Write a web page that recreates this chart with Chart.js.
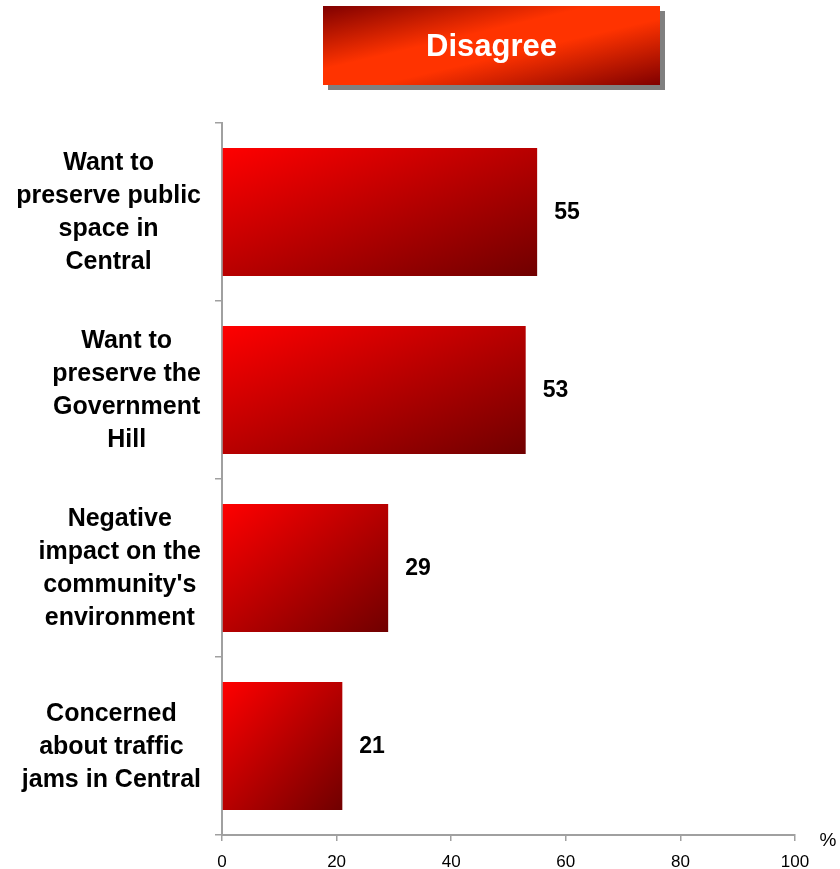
<!DOCTYPE html>
<html>
<head>
<meta charset="utf-8">
<script src="https://cdn.jsdelivr.net/npm/chart.js@4.4.0/dist/chart.umd.min.js"></script>
<style>
  html, body { margin: 0; padding: 0; background: #fff; }
  #wrap { position: relative; width: 840px; height: 869px; }
  #title {
    position: absolute; left: 323px; top: 6px; width: 337px; height: 79px;
    background: linear-gradient(to bottom right, #800000 0%, #ff3300 40%, #ff3300 58%, #800000 100%);
    box-shadow: 5px 5px 0 #808080;
    color: #fff; font: bold 31px "Liberation Sans", Arial, sans-serif;
    display: flex; align-items: center; justify-content: center;
  }
</style>
</head>
<body>
<div id="wrap">
  <canvas id="disagreeChart" width="840" height="869"></canvas>
  <div id="title">Disagree</div>
</div>
<script>
// chart data
const categories = [
  ["Want to", "preserve public", "space in", "Central"],
  ["Want to", "preserve the", "Government", "Hill"],
  ["Negative", "impact on the", "community's", "environment"],
  ["Concerned", "about traffic", "jams in Central"]
];
const values = [55, 53, 29, 21];
const xTicks = [0, 20, 40, 60, 80, 100];

const FONT = '"Liberation Sans", Arial, sans-serif';

// paints each bar with its own corner-to-corner red gradient (like css "to bottom right")
const barGradient = {
  id: 'barGradient',
  beforeDatasetsDraw(chart) {
    const ctx = chart.ctx;
    chart.getDatasetMeta(0).data.forEach(bar => {
      const p = bar.getProps(['x', 'y', 'base', 'height'], true);
      const w = p.x - p.base, h = p.height;
      const cx = p.base + w / 2, cy = p.y;
      const k = (w * h) / (w * w + h * h);
      const g = ctx.createLinearGradient(cx - h * k, cy - w * k, cx + h * k, cy + w * k);
      g.addColorStop(0, '#ff0000');
      g.addColorStop(1, '#700000');
      bar.options.backgroundColor = g;
    });
  }
};

// value labels, category labels and the % unit
const labelsPlugin = {
  id: 'labelsPlugin',
  afterDatasetsDraw(chart) {
    const ctx = chart.ctx;
    ctx.save();
    ctx.font = 'bold 23px ' + FONT;
    ctx.fillStyle = '#000';
    ctx.textAlign = 'left';
    ctx.textBaseline = 'middle';
    chart.getDatasetMeta(0).data.forEach((bar, i) => {
      ctx.fillText(String(values[i]), bar.x + 17, bar.y + 1);
    });
    ctx.restore();
  },
  afterDraw(chart) {
    const ctx = chart.ctx;
    const ys = chart.scales.y, xs = chart.scales.x;
    ctx.save();
    ctx.font = 'bold 25px ' + FONT;
    ctx.fillStyle = '#000';
    ctx.textAlign = 'center';
    ctx.textBaseline = 'middle';
    categories.forEach((lines, i) => {
      const yc = ys.getPixelForValue(i);
      const w = Math.max(...lines.map(l => ctx.measureText(l).width));
      const cx = ys.right - 21 - w / 2;
      lines.forEach((l, j) => {
        ctx.fillText(l, cx, yc + 1 + (j - (lines.length - 1) / 2) * 33);
      });
    });
    ctx.font = '19px ' + FONT;
    ctx.fillText('%', xs.right + 33, xs.top + 6);
    ctx.restore();
  }
};

new Chart(document.getElementById('disagreeChart'), {
  type: 'bar',
  data: {
    labels: categories,
    datasets: [{
      data: values,
      backgroundColor: () => '#c00000',
      borderWidth: 0,
      barPercentage: 0.72,
      categoryPercentage: 1
    }]
  },
  options: {
    indexAxis: 'y',
    responsive: false,
    animation: false,
    events: [],
    layout: { padding: { top: 123, right: 45, left: 0, bottom: 0 } },
    plugins: { legend: { display: false }, title: { display: false }, tooltip: { enabled: false } },
    scales: {
      x: {
        min: 0, max: 100,
        afterBuildTicks(s) { s.ticks = xTicks.map(v => ({ value: v })); },
        ticks: { color: '#000', font: { size: 17, family: FONT }, padding: 11, maxRotation: 0 },
        grid: { drawOnChartArea: false, tickLength: 6, color: '#a0a0a0', lineWidth: 1.5 },
        border: { color: '#a0a0a0', width: 2 },
        afterFit(s) { s.height = 34; }
      },
      y: {
        ticks: { display: false },
        grid: { offset: true, drawOnChartArea: false, tickLength: 7, color: '#a0a0a0', lineWidth: 1.5 },
        border: { color: '#a0a0a0', width: 2 },
        afterFit(s) { s.width = 222; }
      }
    }
  },
  plugins: [barGradient, labelsPlugin]
});
</script>
</body>
</html>
